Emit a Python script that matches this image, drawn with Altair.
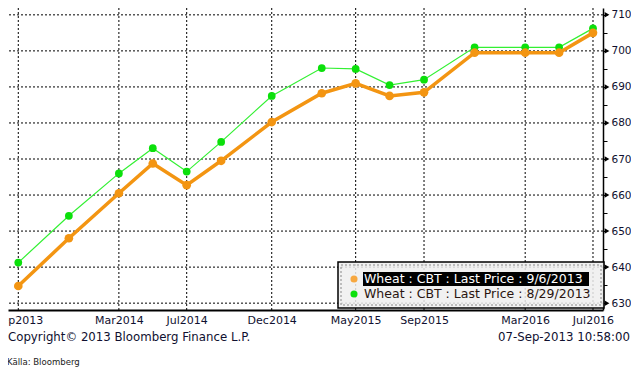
import altair as alt
import pandas as pd

# ---- data ----
dates = ["2013-09-01", "2013-12-01", "2014-03-01", "2014-05-01", "2014-07-01",
         "2014-09-01", "2014-12-01", "2015-03-01", "2015-05-01", "2015-07-01",
         "2015-09-01", "2015-12-01", "2016-03-01", "2016-05-01", "2016-07-01"]
price_0906 = [634.75, 648.0, 660.5, 668.75, 662.75, 669.5, 680.25, 688.25,
              691.0, 687.5, 688.5, 699.5, 699.5, 699.5, 705.0]
price_0829 = [641.25, 654.25, 666.0, 673.0, 666.5, 674.75, 687.5, 695.25,
              695.0, 690.5, 692.0, 701.0, 701.0, 701.0, 706.25]
series_names = ["Wheat : CBT : Last Price : 9/6/2013",
                "Wheat : CBT : Last Price : 8/29/2013"]
x_label_dates = ["2013-09-01", "2014-03-01", "2014-07-01", "2014-12-01",
                 "2015-05-01", "2015-09-01", "2016-03-01", "2016-07-01"]
y_major = [630, 640, 650, 660, 670, 680, 690, 700, 710]
y_ticks = [630, 635, 640, 645, 650, 655, 660, 665, 670, 675, 680, 685, 690,
           695, 700, 705, 710]
copyright_text = "Copyright\u00a9 2013 Bloomberg Finance L.P."
timestamp_text = "07-Sep-2013 10:58:00"
source_text = "K\u00e4lla: Bloomberg"

ORANGE = "#f39512"
ORANGE_LEG = "#f7a840"
GREEN_LINE = "#33f033"
GREEN_PT = "#0be00b"
LABEL = "#101030"
FONT = "DejaVu Sans"

W, H = 595, 302

df = pd.DataFrame({
    "date": dates * 2,
    "price": price_0906 + price_0829,
    "series": [series_names[0]] * len(dates) + [series_names[1]] * len(dates),
})

x_scale = alt.Scale(type="utc", domain=[
    alt.DateTime(year=2013, month=8, date=13, hours=12, utc=True),
    alt.DateTime(year=2016, month=7, date=19, hours=0, utc=True)])
y_scale = alt.Scale(domain=[628.1, 711.9], nice=False, zero=False)


def ymd(s):
    y, m, d = (int(p) for p in s.split("-"))
    return alt.DateTime(year=y, month=m, date=d, utc=True)


x_axis = alt.Axis(values=[ymd(s) for s in x_label_dates],
                  labelExpr="utcFormat(datum.value, '%b%Y')",
                  grid=False, ticks=False, domain=True, domainColor="black",
                  domainWidth=2, labelFont=FONT, labelFontSize=11,
                  labelColor=LABEL, labelPadding=4, labelFlush=False,
                  labelOverlap=False, labelBound=False, title=None)
y_axis = alt.Axis(orient="right", values=y_ticks,
                  labelExpr="datum.value % 10 == 0 ? datum.value : ''",
                  tickSize=4, tickColor="black", tickWidth=1,
                  domainColor="black", domainWidth=1.5, grid=False,
                  labelFont=FONT, labelFontSize=10.5, labelColor=LABEL,
                  labelPadding=4, labelOverlap=False, title=None)

X = lambda f: alt.X(f, scale=x_scale, axis=x_axis)
Y = lambda f: alt.Y(f, scale=y_scale, axis=y_axis)

# gridlines
hgrid = alt.Chart(pd.DataFrame({"v": y_major})).mark_rule(
    color="black", strokeWidth=1, strokeDash=[2, 2]).encode(y=Y("v:Q"))
vgrid = alt.Chart(pd.DataFrame({"date": x_label_dates})).mark_rule(
    color="black", strokeWidth=1, strokeDash=[2, 2]).encode(x=X("date:T"))

green = df[df.series == series_names[1]]
orange = df[df.series == series_names[0]]

g_line = alt.Chart(green).mark_line(color=GREEN_LINE, strokeWidth=1.2).encode(
    x=X("date:T"), y=Y("price:Q"))
g_pts = alt.Chart(green).mark_circle(color=GREEN_PT, size=60, opacity=1).encode(
    x=X("date:T"), y=Y("price:Q"))
o_line = alt.Chart(orange).mark_line(color=ORANGE, strokeWidth=3.5).encode(
    x=X("date:T"), y=Y("price:Q"))
o_pts = alt.Chart(orange).mark_circle(color=ORANGE, size=75, opacity=1).encode(
    x=X("date:T"), y=Y("price:Q"))

arrows = alt.Chart(pd.DataFrame({"v": y_major})).mark_point(
    shape="triangle-right", filled=True, color="black", size=30,
    opacity=1).encode(x=alt.value(W + 4), y=Y("v:Q"))

one = pd.DataFrame({"k": [0]})

LX = 330  # legend left edge
leg_bg = alt.Chart(one).mark_rect(
    fill="#eeeeee", fillOpacity=0.85, stroke="black", strokeWidth=1.5).encode(
    x=alt.value(LX), x2=alt.value(W + 1), y=alt.value(254), y2=alt.value(300))
leg_inner = alt.Chart(one).mark_rect(
    fillOpacity=0, stroke="#888888", strokeWidth=1, strokeDash=[2, 2]).encode(
    x=alt.value(LX + 3), x2=alt.value(W - 2), y=alt.value(257), y2=alt.value(297))
leg_hl = alt.Chart(one).mark_rect(fill="black").encode(
    x=alt.value(LX + 25), x2=alt.value(LX + 251), y=alt.value(264), y2=alt.value(278))
leg_dot1 = alt.Chart(one).mark_circle(color=ORANGE_LEG, size=50, opacity=1).encode(
    x=alt.value(LX + 16), y=alt.value(271))
leg_dot2 = alt.Chart(one).mark_circle(color=GREEN_PT, size=50, opacity=1).encode(
    x=alt.value(LX + 16), y=alt.value(286))
leg_t1 = alt.Chart(one).mark_text(
    text=series_names[0], align="left", baseline="middle", font=FONT,
    fontSize=12.5, color="white").encode(x=alt.value(LX + 26), y=alt.value(271))
leg_t2 = alt.Chart(one).mark_text(
    text=series_names[1], align="left", baseline="middle", font=FONT,
    fontSize=12.5, color="#2a1510").encode(x=alt.value(LX + 26), y=alt.value(286))

copy_t = alt.Chart(one).mark_text(
    text=copyright_text, align="left", baseline="middle", font=FONT,
    fontSize=11.75, color=LABEL).encode(x=alt.value(0), y=alt.value(329))
time_t = alt.Chart(one).mark_text(
    text=timestamp_text, align="right", baseline="middle", font=FONT,
    fontSize=11.75, color=LABEL).encode(x=alt.value(622), y=alt.value(329))
src_t = alt.Chart(one).mark_text(
    text=source_text, align="left", baseline="middle",
    font="DejaVu Sans Condensed", fontSize=9.5, color="#222222").encode(
    x=alt.value(-1), y=alt.value(354))

chart = alt.layer(
    hgrid, vgrid, g_line, g_pts, o_line, o_pts, arrows,
    leg_bg, leg_inner, leg_hl, leg_dot1, leg_dot2, leg_t1, leg_t2,
    copy_t, time_t, src_t
).properties(
    width=W, height=H,
    autosize=alt.AutoSizeParams(type="none"),
    padding={"left": 0, "top": 0, "right": 623 - W, "bottom": 57},
).configure_view(stroke=None)

chart.save("out.html", embed_options={"renderer": "svg", "actions": False})
